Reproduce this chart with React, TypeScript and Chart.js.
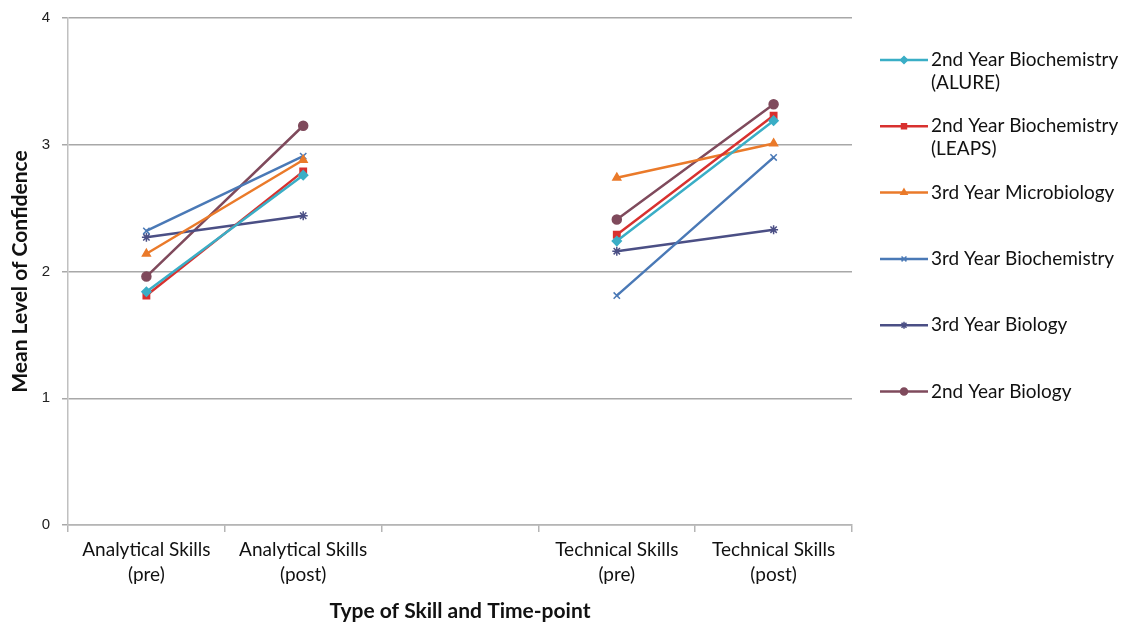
import React, { useEffect, useRef } from "react";
import { Chart, registerables } from "chart.js";
import { drawPoint } from "chart.js/helpers";

Chart.register(...registerables);

const categories: (string | string[])[] = [
  ["Analytical Skills", "(pre)"],
  ["Analytical Skills", "(post)"],
  "",
  ["Technical Skills", "(pre)"],
  ["Technical Skills", "(post)"],
];

const seriesNames: string[][] = [
  ["2nd Year Biochemistry", "(ALURE)"],
  ["2nd Year Biochemistry", "(LEAPS)"],
  ["3rd Year Microbiology"],
  ["3rd Year Biochemistry"],
  ["3rd Year Biology"],
  ["2nd Year Biology"],
];

const alure = [1.84, 2.76, null, 2.24, 3.19];
const leaps = [1.81, 2.79, null, 2.29, 3.23];
const microbiology3 = [2.14, 2.88, null, 2.74, 3.01];
const biochemistry3 = [2.32, 2.91, null, 1.81, 2.9];
const biology3 = [2.27, 2.44, null, 2.16, 2.33];
const biology2 = [1.96, 3.15, null, 2.41, 3.32];

const yTicks = [0, 1, 2, 3, 4];

const colors = ["#3aaec6", "#d8312f", "#ea7a2a", "#4a79b6", "#4b4f85", "#7f4a5c"];
const markers = ["rectRot", "rect", "triangle", "crossRot", "star", "circle"];
const seriesValues = [alure, leaps, microbiology3, biochemistry3, biology3, biology2];

const FONT = "Lato, 'Open Sans', sans-serif";

const sideLegend = {
  id: "sideLegend",
  afterDraw(chart: any) {
    const ctx = chart.ctx;
    const area = chart.chartArea;
    const x0 = area.right + 28;
    chart.data.datasets.forEach((ds: any, i: number) => {
      const y = area.top + 42 + i * 66.3;
      ctx.save();
      ctx.strokeStyle = ds.borderColor;
      ctx.lineWidth = 2.5;
      ctx.beginPath();
      ctx.moveTo(x0, y);
      ctx.lineTo(x0 + 48, y);
      ctx.stroke();
      ctx.fillStyle = ds.borderColor;
      ctx.lineWidth = 1.5;
      drawPoint(
        ctx,
        { pointStyle: ds.pointStyle, radius: 3.5, rotation: 0, borderWidth: 1.5 },
        x0 + 24,
        y
      );
      ctx.fillStyle = "#111";
      ctx.font = `19px ${FONT}`;
      ctx.textBaseline = "middle";
      ctx.textAlign = "left";
      seriesNames[i].forEach((line, j) => {
        ctx.fillText(line, x0 + 51, y + j * 23);
      });
      ctx.restore();
    });
  },
};

export default function App() {
  const ref = useRef<HTMLCanvasElement | null>(null);
  useEffect(() => {
    if (!ref.current) return;
    const chart = new Chart(ref.current, {
      type: "line",
      data: {
        labels: categories,
        datasets: seriesValues.map((vals, i) => ({
          label: seriesNames[i].join(" "),
          data: vals,
          borderColor: colors[i],
          backgroundColor: colors[i],
          borderWidth: 2.5,
          pointStyle: markers[i] as any,
          pointRadius: 4.5,
          pointBorderWidth: 1.5,
          pointBackgroundColor: colors[i],
          pointBorderColor: colors[i],
          spanGaps: false,
          tension: 0,
        })),
      },
      options: {
        responsive: false,
        animation: false,
        layout: { padding: { top: 18, right: 271, bottom: 0, left: 0 } },
        plugins: {
          legend: { display: false },
          tooltip: { enabled: false },
        },
        scales: {
          x: {
            type: "category",
            offset: true,
            grid: {
              offset: true,
              drawOnChartArea: false,
              drawTicks: true,
              tickLength: 7,
              color: "#b5b5b5",
              lineWidth: 1.5,
            },
            border: { color: "#b5b5b5", width: 1.5 },
            ticks: {
              font: { family: FONT, size: 19, lineHeight: 1.3 },
              color: "#111",
              padding: 6,
              maxRotation: 0,
              autoSkip: false,
            },
            title: {
              display: true,
              text: "Type of Skill and Time-point",
              font: { family: FONT, size: 21, weight: "bold" },
              color: "#111",
              padding: { top: 0, bottom: 0 },
            },
            afterFit: (s: any) => {
              s.height = 99;
              s.paddingLeft = 0;
              s.paddingRight = 0;
            },
          },
          y: {
            min: 0,
            max: 4,
            afterBuildTicks: (s: any) => {
              s.ticks = yTicks.map((v) => ({ value: v }));
            },
            ticks: {
              font: { family: "'Liberation Sans', Arial, sans-serif", size: 15 },
              color: "#222",
              padding: 12,
            },
            grid: { color: "#a8a8a8", lineWidth: 1.5, tickLength: 6 },
            border: { color: "#c0c0c0", width: 1.5 },
            title: {
              display: true,
              text: "Mean Level of Confidence",
              font: { family: FONT, size: 21, weight: "bold" },
              color: "#111",
              padding: { top: 8, bottom: 0 },
            },
            afterFit: (s: any) => {
              s.width = 68;
              s.paddingTop = 0;
              s.paddingBottom = 0;
            },
          },
        },
      },
      plugins: [sideLegend],
    });
    return () => chart.destroy();
  }, []);
  return (
    <div style={{ position: "fixed", left: 0, top: 0, width: 1123, height: 624, background: "#fff" }}>
      <canvas ref={ref} width={1123} height={624} />
    </div>
  );
}
